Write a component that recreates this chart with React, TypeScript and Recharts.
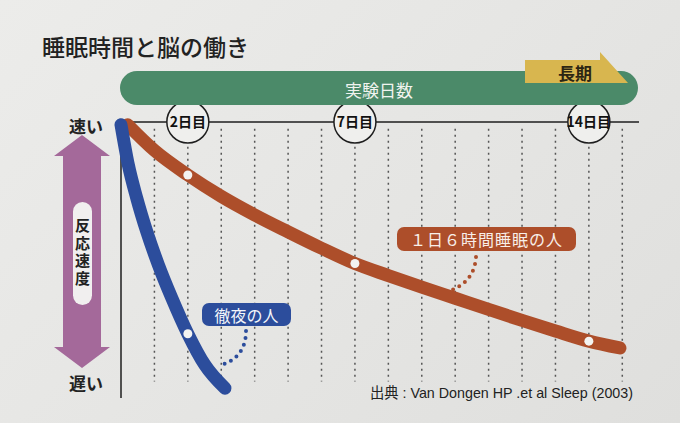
import React from "react";
import { LineChart, Line, XAxis, YAxis, ReferenceLine, ReferenceDot } from "recharts";

// x: 実験日数 (days), y: 反応速度 (100 = fast, 0 = slow)
const allNighterDays = [0, 0.22, 0.47, 0.77, 1.12, 1.52, 2, 2.51, 3.11];
const allNighterSpeed = [99, 84.3, 72.2, 59.9, 47.7, 35.6, 22.5, 11.1, 2.6];

const sixHourDays = [0.2, 1, 2, 3, 4, 5, 6, 7, 8, 9, 10, 11, 12, 13, 14, 14.93];
const sixHourSpeed = [99, 89.6, 80.6, 72.8, 66, 59.8, 53.8, 48.2, 43.8, 39.6, 35.5, 31.4, 27.4, 23.5, 19.8, 17.3];

const gridDays = [1, 2, 3, 4, 5, 6, 7, 8, 9, 10, 11, 12, 13, 14, 15];
const milestoneDays = [2, 7, 14];
const milestoneLabels = ["2日目", "7日目", "14日目"];

const allNighterData = allNighterDays.map((day, i) => ({ day, value: allNighterSpeed[i] }));
const sixHourData = sixHourDays.map((day, i) => ({ day, value: sixHourSpeed[i] }));

const CJK = '"Noto Sans CJK JP", "Noto Sans", sans-serif';
const BLUE = "#2c4d9c";
const ORANGE = "#ad4e2a";
const GREEN = "#4b8a69";
const GOLD = "#d8b64f";
const PURPLE = "#a4699a";

const markerDot = (marks: number[]) => (props: any) => {
  const { cx, cy, payload, index } = props;
  if (!marks.includes(payload.day)) return <g key={`m${index}`} />;
  return <circle key={`m${index}`} cx={cx} cy={cy} r={4.5} fill="#f3f3f1" />;
};

function Decorations() {
  return (
    <svg
      width={680}
      height={423}
      style={{ position: "absolute", left: 0, top: 0, pointerEvents: "none" }}
      fontFamily={CJK}
    >
      <text x={42} y={56} fontSize={23} fill="#222" fontWeight={500}>
        睡眠時間と脳の働き
      </text>

      {/* day axis banner */}
      <rect x={120} y={71} width={518} height={34} rx={17} fill={GREEN} />
      <text x={379} y={89} fontSize={17} fill="#f1f4ef" textAnchor="middle" dominantBaseline="central">
        実験日数
      </text>
      <polygon points="525,60 600,60 600,52 628,83 525,83" fill={GOLD} />
      <text x={575} y={72} fontSize={17} fontWeight={700} fill="#2b2513" textAnchor="middle" dominantBaseline="central">
        長期
      </text>

      {/* speed axis arrow */}
      <polygon
        points="82,135 110,156 101,156 101,347 110,347 82,368 54,347 63,347 63,156 54,156"
        fill={PURPLE}
      />
      <rect x={73} y={202} width={19} height={103} rx={9.5} fill="#f1efef" />
      <text x={82.5} y={218} fontSize={15} fontWeight={700} fill="#222" letterSpacing={2.5}
        style={{ writingMode: "vertical-rl" }}>
        反応速度
      </text>
      <text x={86} y={125} fontSize={17} fontWeight={700} fill="#222" textAnchor="middle" dominantBaseline="central">
        速い
      </text>
      <text x={86} y={382} fontSize={17} fontWeight={700} fill="#222" textAnchor="middle" dominantBaseline="central">
        遅い
      </text>

      {/* series labels */}
      <rect x={202} y={303} width={89} height={23} rx={7} fill={BLUE} />
      <text x={246.5} y={314.5} fontSize={16} fill="#f4f6fa" textAnchor="middle" dominantBaseline="central">
        徹夜の人
      </text>
      <path d="M246,331 C246,348 238,360 221,365" fill="none" stroke={BLUE} strokeWidth={4}
        strokeLinecap="round" strokeDasharray="0 7" />

      <rect x={397} y={227} width={179} height={24} rx={7} fill={ORANGE} />
      <text x={486.5} y={239} fontSize={16} fill="#f8efe9" textAnchor="middle" dominantBaseline="central"
        letterSpacing={1}>
        １日６時間睡眠の人
      </text>
      <path d="M476,257 C475,272 468,283 452,290" fill="none" stroke={ORANGE} strokeWidth={4}
        strokeLinecap="round" strokeDasharray="0 7" />

      <text x={370} y={398} fontSize={15} fill="#222" textLength={263} lengthAdjust="spacingAndGlyphs"
        fontFamily={'"Liberation Sans Narrow", "Liberation Sans", ' + CJK}>
        出典 : Van Dongen HP .et al Sleep (2003)
      </text>
    </svg>
  );
}

export default function App() {
  return (
    <div
      style={{
        position: "absolute",
        left: 0,
        top: 0,
        width: 680,
        height: 423,
        background: "linear-gradient(135deg, #ececea 0%, #e5e5e3 55%, #dfdfdd 100%)",
        overflow: "hidden",
      }}
    >
      <LineChart width={680} height={423} margin={{ top: 122, right: 41, bottom: 25, left: 121 }}>
        <XAxis type="number" dataKey="day" domain={[0, 15.5]} hide />
        <YAxis type="number" domain={[-1, 100]} hide />
        {gridDays.map((d) => (
          <ReferenceLine
            key={d}
            segment={[{ x: d, y: 97.5 }, { x: d, y: 5 }]}
            stroke="#555"
            strokeWidth={1.5}
            strokeDasharray="2 4"
          />
        ))}
        <ReferenceLine y={100} stroke="#1e1e1e" strokeWidth={1.5} />
        <ReferenceLine x={0} stroke="#1e1e1e" strokeWidth={1.5} />
        {milestoneDays.map((d, i) => (
          <ReferenceDot
            key={d}
            x={d}
            y={100}
            r={21}
            fill="#efefed"
            stroke="#1e1e1e"
            strokeWidth={1.5}
            label={{
              value: milestoneLabels[i],
              position: "center",
              fill: "#111",
              fontSize: 14,
              fontWeight: 700,
              fontFamily: CJK,
            }}
          />
        ))}
        <Line
          data={sixHourData}
          dataKey="value"
          type="monotone"
          stroke={ORANGE}
          strokeWidth={13}
          strokeLinecap="round"
          dot={markerDot(milestoneDays)}
          activeDot={false}
          isAnimationActive={false}
        />
        <Line
          data={allNighterData}
          dataKey="value"
          type="monotone"
          stroke={BLUE}
          strokeWidth={13}
          strokeLinecap="round"
          dot={markerDot([2])}
          activeDot={false}
          isAnimationActive={false}
        />
      </LineChart>
      <Decorations />
    </div>
  );
}
